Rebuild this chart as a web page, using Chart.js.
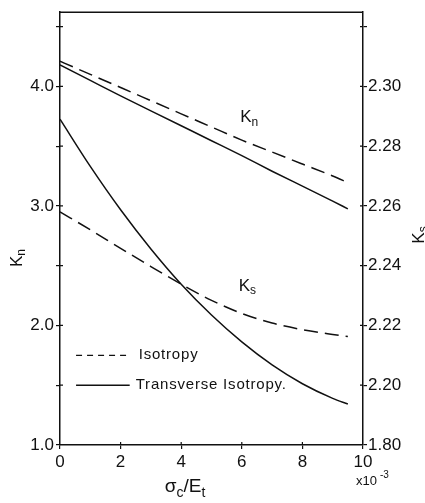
<!DOCTYPE html>
<html>
<head>
<meta charset="utf-8">
<script src="https://cdn.jsdelivr.net/npm/chart.js@4.4.0/dist/chart.umd.min.js"></script>
<style>
  html, body { margin: 0; padding: 0; background: #fff; }
  #wrap { width: 425px; height: 503px; }
</style>
</head>
<body>
<div id="wrap"><canvas id="c" width="425" height="503"></canvas></div>
<script>
// ---- Data ----
const xValues = [0, 1, 2, 3, 4, 5, 6, 7, 8, 9, 9.5];            // sigma_c/E_t (x10^-3)
const knIsotropy   = [4.21, 4.10, 3.99, 3.88, 3.77, 3.66, 3.55, 3.45, 3.35, 3.25, 3.195];
const knTransverse = [4.18, 4.05, 3.92, 3.795, 3.67, 3.545, 3.42, 3.29, 3.165, 3.04, 2.975];
const ksIsotropy   = [2.258, 2.252, 2.2458, 2.2397, 2.2338, 2.2284, 2.2240, 2.2208, 2.2186, 2.2170, 2.2163];
const ksTransverse = [2.289, 2.2732, 2.2587, 2.2456, 2.2338, 2.2235, 2.2145, 2.2068, 2.2005, 2.1956, 2.1937];

const xTicks  = [0, 2, 4, 6, 8, 10];
const knTicks = [1.0, 1.5, 2.0, 2.5, 3.0, 3.5, 4.0, 4.5];
const knTickLabels = {"1": "1.0", "2": "2.0", "3": "3.0", "4": "4.0"};
const ksTicks = [2.18, 2.20, 2.22, 2.24, 2.26, 2.28, 2.30, 2.32];
const ksTickLabels = {"2.18": "1.80", "2.20": "2.20", "2.22": "2.22", "2.24": "2.24", "2.26": "2.26", "2.28": "2.28", "2.30": "2.30"};

const legendLabels = ["Isotropy", "Transverse Isotropy."];
const xTitle = [["σ", false], ["c", true], ["/E", false], ["t", true]];
const knTitle = [["K", false], ["n", true]];
const ksTitle = [["K", false], ["s", true]];

const FONT = "'Liberation Sans', 'DejaVu Sans', sans-serif";
const INK = "#111";

const toPts = (ys) => xValues.map((x, i) => ({x: x, y: ys[i]}));

function drawSubText(ctx, parts, x, y, size, align) {
  let w = 0;
  const items = parts.map(([t, sub]) => {
    const fs = sub ? Math.round(size * 0.72) : size;
    ctx.font = fs + "px " + FONT;
    const m = ctx.measureText(t).width;
    w += m;
    return {t, sub, fs, m};
  });
  let cx = align === "center" ? x - w / 2 : x;
  ctx.textAlign = "left";
  ctx.textBaseline = "middle";
  items.forEach(it => {
    ctx.font = it.fs + "px " + FONT;
    ctx.fillText(it.t, cx, it.sub ? y + size * 0.3 : y);
    cx += it.m;
  });
}

const decor = {
  id: "decor",
  afterDraw(chart) {
    const ctx = chart.ctx;
    const a = chart.chartArea;
    const sx = chart.scales.x, sy = chart.scales.y, sy2 = chart.scales.y2;
    ctx.save();
    ctx.strokeStyle = INK;
    ctx.fillStyle = INK;
    // top frame line
    ctx.lineWidth = 1.5;
    ctx.beginPath();
    ctx.moveTo(a.left, a.top);
    ctx.lineTo(a.right, a.top);
    ctx.stroke();
    // inward tick halves
    ctx.lineWidth = 1.2;
    ctx.beginPath();
    xTicks.slice(1, -1).forEach(v => { const p = sx.getPixelForValue(v); ctx.moveTo(p, a.bottom); ctx.lineTo(p, a.bottom - 3); });
    knTicks.slice(1).forEach(v => { const p = sy.getPixelForValue(v); ctx.moveTo(a.left, p); ctx.lineTo(a.left + 3, p); });
    ksTicks.slice(1).forEach(v => { const p = sy2.getPixelForValue(v); ctx.moveTo(a.right, p); ctx.lineTo(a.right - 3, p); });
    ctx.stroke();

    // legend
    const lx0 = sx.getPixelForValue(0.53), lx1 = sx.getPixelForValue(2.3);
    const ly1 = sy.getPixelForValue(1.75), ly2 = sy.getPixelForValue(1.5);
    ctx.lineWidth = 1.4;
    ctx.setLineDash([6, 5]);
    ctx.beginPath(); ctx.moveTo(lx0, ly1); ctx.lineTo(lx1, ly1); ctx.stroke();
    ctx.setLineDash([]);
    ctx.beginPath(); ctx.moveTo(lx0, ly2); ctx.lineTo(lx1, ly2); ctx.stroke();
    ctx.font = "15px " + FONT;
    ctx.letterSpacing = "0.8px";
    ctx.textAlign = "left";
    ctx.textBaseline = "middle";
    ctx.fillText(legendLabels[0], lx1 + 9, ly1);
    ctx.fillText(legendLabels[1], lx1 + 6, ly2);
    ctx.letterSpacing = "0px";

    // curve labels
    drawSubText(ctx, knTitle, sx.getPixelForValue(5.95), sy.getPixelForValue(3.74), 17, "left");
    drawSubText(ctx, ksTitle, sx.getPixelForValue(5.9), sy.getPixelForValue(2.33), 17, "left");

    // x title and multiplier
    drawSubText(ctx, xTitle, 185, 487, 19, "center");
    ctx.font = "13px " + FONT;
    ctx.textAlign = "left";
    ctx.textBaseline = "middle";
    ctx.fillText("x10", 356, 481);
    ctx.font = "10px " + FONT;
    ctx.fillText("-3", 380, 475);

    // left axis title (rotated)
    ctx.save();
    ctx.translate(17, 258);
    ctx.rotate(-Math.PI / 2);
    drawSubText(ctx, knTitle, 0, 0, 17, "center");
    ctx.restore();
    // right axis title (rotated)
    ctx.save();
    ctx.translate(419, 235);
    ctx.rotate(-Math.PI / 2);
    drawSubText(ctx, ksTitle, 0, 0, 17, "center");
    ctx.restore();
    ctx.restore();
  }
};

const lineDs = (label, data, axis, dashed) => ({
  label: label,
  data: data,
  yAxisID: axis,
  borderColor: INK,
  borderWidth: 1.5,
  borderDash: dashed ? [14, 7] : [],
  pointRadius: 0,
  fill: false,
  tension: 0.4,
  cubicInterpolationMode: "monotone"
});

new Chart(document.getElementById("c"), {
  type: "line",
  data: {
    datasets: [
      lineDs("Kn Isotropy", toPts(knIsotropy), "y", true),
      lineDs("Kn Transverse Isotropy", toPts(knTransverse), "y", false),
      lineDs("Ks Isotropy", toPts(ksIsotropy), "y2", true),
      lineDs("Ks Transverse Isotropy", toPts(ksTransverse), "y2", false)
    ]
  },
  options: {
    responsive: false,
    devicePixelRatio: 1,
    animation: false,
    layout: { padding: { top: 8, left: 0, right: 0, bottom: 0 } },
    plugins: { legend: { display: false }, tooltip: { enabled: false } },
    scales: {
      x: {
        type: "linear",
        min: 0, max: 10,
        afterBuildTicks: s => { s.ticks = xTicks.map(v => ({value: v})); },
        afterFit: s => { s.height = 58; },
        ticks: { color: INK, font: { size: 17, family: FONT }, padding: 3, maxRotation: 0,
                 callback: v => String(v) },
        grid: { drawOnChartArea: false, color: INK, tickLength: 4, lineWidth: 1.2 },
        border: { color: INK, width: 1.5 }
      },
      y: {
        position: "left",
        min: 1.0, max: 4.62,
        afterBuildTicks: s => { s.ticks = knTicks.map(v => ({value: v})); },
        afterFit: s => { s.width = 60; },
        ticks: { color: INK, font: { size: 17, family: FONT }, padding: 2,
                 callback: v => knTickLabels[String(v)] || "" },
        grid: { drawOnChartArea: false, color: INK, tickLength: 4, lineWidth: 1.2 },
        border: { color: INK, width: 1.5 }
      },
      y2: {
        position: "right",
        min: 2.18, max: 2.3248,
        afterBuildTicks: s => { s.ticks = ksTicks.map(v => ({value: v})); },
        afterFit: s => { s.width = 62; },
        ticks: { color: INK, font: { size: 17, family: FONT }, padding: 1,
                 callback: v => ksTickLabels[v.toFixed(2)] || "" },
        grid: { drawOnChartArea: false, color: INK, tickLength: 4, lineWidth: 1.2 },
        border: { color: INK, width: 1.5 }
      }
    }
  },
  plugins: [decor]
});
</script>
</body>
</html>
